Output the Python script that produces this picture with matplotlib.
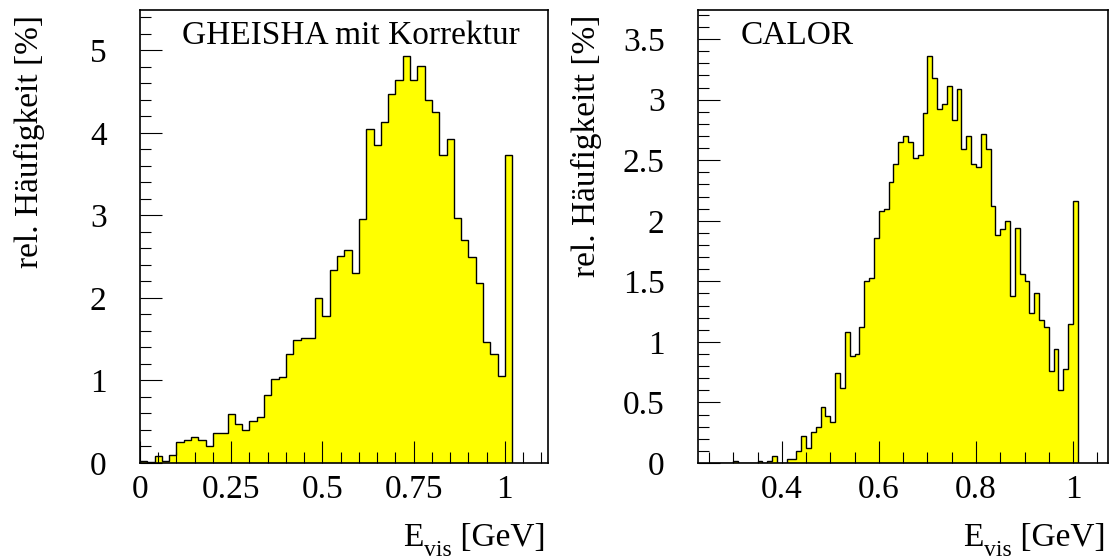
import numpy as np
import matplotlib
matplotlib.use("Agg")
import matplotlib.pyplot as plt
from matplotlib.ticker import MultipleLocator, FormatStrFormatter

plt.rcParams['font.family'] = ['Liberation Serif', 'DejaVu Serif']

# GHEISHA mit Korrektur: 0.02 GeV bins from 0 to 1.02
gheisha_lo, gheisha_hi = 0.0, 1.02
gheisha_vals = [0.02, 0.01, 0.08, 0.03, 0.10, 0.25, 0.28, 0.32, 0.28, 0.21,
                0.36, 0.36, 0.59, 0.47, 0.40, 0.51, 0.56, 0.83, 1.02, 1.04,
                1.32, 1.49, 1.51, 1.51, 2.00, 1.78, 2.34, 2.51, 2.58, 2.30,
                2.96, 4.05, 3.85, 4.13, 4.47, 4.64, 4.93, 4.64, 4.81, 4.40,
                4.25, 3.73, 3.93, 2.97, 2.70, 2.50, 2.18, 1.47, 1.32, 1.06,
                3.73]

# CALOR: 0.01 GeV bins from 0.25 to 1.01
calor_lo, calor_hi = 0.25, 1.01
calor_vals = [0.0, 0.0, 0.0, 0.0, 0.0, 0.02, 0.0, 0.0, 0.0, 0.0,
              0.02, 0.0, 0.02, 0.06, 0.0, 0.0, 0.035, 0.035, 0.10, 0.22,
              0.12, 0.26, 0.30, 0.46, 0.39, 0.34, 0.74, 0.62, 1.08, 0.88,
              0.90, 1.12, 1.50, 1.53, 1.86, 2.08, 2.10, 2.32, 2.47, 2.65,
              2.70, 2.65, 2.52, 2.54, 2.89, 3.36, 3.18, 2.92, 2.96, 3.11,
              2.83, 3.09, 2.59, 2.70, 2.47, 2.44, 2.72, 2.59, 2.12, 1.88,
              1.93, 2.00, 1.38, 1.94, 1.56, 1.50, 1.24, 1.40, 1.18, 1.12,
              0.76, 0.94, 0.60, 0.78, 1.15, 2.16]

panels = [
    dict(vals=gheisha_vals, lo=gheisha_lo, hi=gheisha_hi, title="GHEISHA mit Korrektur",
         ylabel="rel. Häufigkeit [%]", xlim=(0.0, 1.118), ylim=(0, 5.49),
         xmaj=0.25, xmin=0.05, ymaj=1.0, ymin=0.2,
         rect=[140 / 1115, 97 / 560, 408 / 1115, 453 / 560]),
    dict(vals=calor_vals, lo=calor_lo, hi=calor_hi, title="CALOR",
         ylabel="rel. Häufigkeitt [%]", xlim=(0.2274, 1.072), ylim=(0, 3.74),
         xmaj=0.2, xmin=0.05, ymaj=0.5, ymin=0.1,
         rect=[698 / 1115, 97 / 560, 410 / 1115, 453 / 560]),
]

fig = plt.figure(figsize=(11.15, 5.6), dpi=100)

for p in panels:
    ax = fig.add_axes(p['rect'])
    vals = np.array(p['vals'])
    edges = np.linspace(p['lo'], p['hi'], len(vals) + 1)
    ax.stairs(vals, edges, fill=True, color='#ffff00', lw=0)
    ax.stairs(vals, edges, color='black', lw=1.0)

    ax.set_xlim(*p['xlim'])
    ax.set_ylim(*p['ylim'])

    ax.xaxis.set_major_locator(MultipleLocator(p['xmaj']))
    ax.xaxis.set_minor_locator(MultipleLocator(p['xmin']))
    ax.yaxis.set_major_locator(MultipleLocator(p['ymaj']))
    ax.yaxis.set_minor_locator(MultipleLocator(p['ymin']))
    ax.xaxis.set_major_formatter(FormatStrFormatter('%g'))
    ax.yaxis.set_major_formatter(FormatStrFormatter('%g'))

    ax.tick_params(which='both', direction='in', top=False, right=False,
                   width=0.8, labelsize=24)
    ax.tick_params(which='major', length=16)
    ax.tick_params(which='minor', length=8)
    ax.tick_params(axis='x', which='major', pad=8)
    ax.tick_params(axis='y', which='major', pad=24)

    for s in ax.spines.values():
        s.set_linewidth(1.2)

    ax.text(0.103, 0.924, p['title'], transform=ax.transAxes,
            fontsize=24, ha='left', va='baseline')

    ax.set_ylabel(p['ylabel'], fontsize=24, loc='top', va='baseline')
    ax.yaxis.set_label_coords(-0.25, 0.99)

    # x title "E_vis [GeV]" built from pieces, subscript set low like the original
    t_gev = ax.text(0.993, -0.199, " [GeV]", transform=ax.transAxes,
                    fontsize=24, ha='right', va='bottom')
    t_vis = ax.annotate("vis", xy=(0, 0), xycoords=t_gev, xytext=(0, -6),
                        textcoords='offset points', fontsize=17,
                        ha='right', va='bottom')
    ax.annotate("E", xy=(0, 0), xycoords=(t_vis, t_gev), fontsize=24,
                ha='right', va='bottom')

fig.savefig("out.png", dpi=100)
